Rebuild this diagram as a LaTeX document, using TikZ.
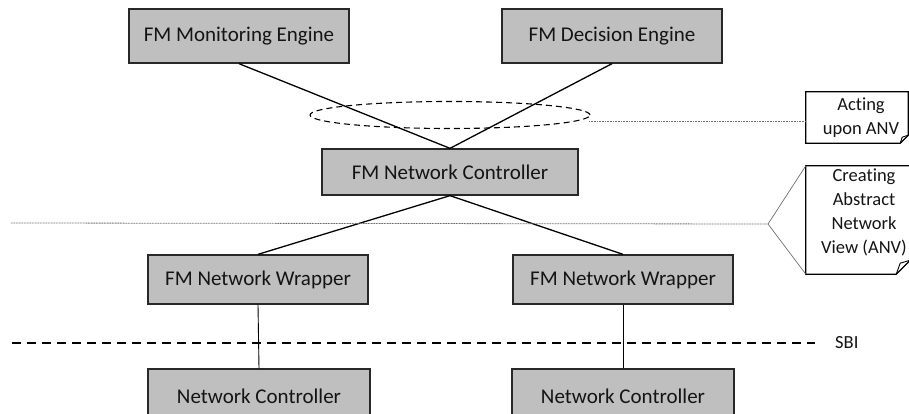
\documentclass[tikz,border=0pt]{standalone}
\usepackage{fontspec}
\setmainfont{Carlito}[Ligatures=NoCommon]
\usetikzlibrary{shapes.geometric,calc}
\definecolor{boxfill}{RGB}{191,191,191}
\definecolor{boxline}{RGB}{40,40,40}
\definecolor{txt}{RGB}{20,20,20}
\definecolor{thin}{RGB}{110,110,110}
\begin{document}
\begin{tikzpicture}[x=1pt,y=-1pt,
  fmbox/.style={draw=boxline, line width=1.3pt, fill=boxfill, text=txt,
    font=\fontsize{21}{25}\selectfont, inner sep=0pt},
  link/.style={line width=1.3pt, black},
  vlink/.style={line width=0.9pt, black},
  anvell/.style={draw=black, ellipse, line width=1.1pt, dash pattern=on 6pt off 4pt, inner sep=0pt},
  dotline/.style={draw=thin, line width=0.8pt, dash pattern=on 1pt off 0.6pt},
  callline/.style={draw=thin, line width=0.7pt},
  notebox/.style={inner sep=0pt},
  noteline/.style={draw=black, line width=1.2pt, line join=miter},
  notetext/.style={align=center, text=txt, font=\fontsize{18.5}{24}\selectfont, inner sep=0pt},
  sbiline/.style={draw=black, line width=2pt, dash pattern=on 9pt off 6pt}
]
\useasboundingbox (0,0) rectangle (909,414);
\clip (0,0) rectangle (909,414);

% main boxes
\node[fmbox, minimum width=220, minimum height=54] (me) at (239,36) {FM Monitoring Engine};
\node[fmbox, minimum width=220, minimum height=54] (de) at (612,36) {FM Decision Engine};
\node[fmbox, minimum width=256, minimum height=46] (nc) at (450,172) {FM Network Controller};
\node[fmbox, minimum width=220, minimum height=49] (wl) at (258,279.5) {FM Network Wrapper};
\node[fmbox, minimum width=220, minimum height=49] (wr) at (623,279.5) {FM Network Wrapper};
\node[fmbox, minimum width=222, minimum height=54] (bl) at (259,396) {Network Controller};
\node[fmbox, minimum width=222, minimum height=54] (br) at (623,396) {Network Controller};

% ellipse
\node[anvell, minimum width=280, minimum height=27] (anv) at (450,115) {};

% connectors
\draw[link] (me.south) -- (nc.north);
\draw[link] (de.south) -- (nc.north);
\draw[link] (nc.south) -- (wl.north);
\draw[link] (nc.south) -- (wr.north);
\draw[vlink] (wl.south) -- (bl.north);
\draw[vlink] (wr.south) -- (br.north);

% SBI
\coordinate (sbiL) at (12,343);
\coordinate (sbiR) at (815,343);
\draw[sbiline] (sbiL) -- (sbiR);
\node[notetext, anchor=west] (sbi) at (835,343) {SBI};

% callout boxes
\node[notebox, minimum width=102, minimum height=51] (act) at (857,117.5) {};
\node[notetext] (acttxt) at (861,117.5) {Acting\\upon ANV};
\draw[noteline] (act.north west) -- (act.north east) -- ($(act.south east)+(0,-8)$)
  -- ($(act.south east)+(-8,0)$) -- (act.south west) -- cycle;
\draw[noteline, line width=0.9pt] ($(act.south east)+(0,-8)$) -- ($(act.south east)+(-6,-6)$) -- ($(act.south east)+(-8,0)$);

\node[notebox, minimum width=104, minimum height=108] (cr) at (858,220) {};
\node[notetext] (crtxt) at (864,212) {Creating\\Abstract\\Network\\View (ANV)};
\draw[noteline] (cr.north west) -- (cr.north east) -- ($(cr.south east)+(0,-14)$)
  -- ($(cr.south east)+(-14,0)$) -- (cr.south west) -- cycle;
\draw[noteline, line width=0.9pt] ($(cr.south east)+(0,-14)$) -- ($(cr.south east)+(-10,-11)$) -- ($(cr.south east)+(-14,0)$);

% dotted leaders
\coordinate (e1) at (589,121);
\draw[dotline] (e1) -- (act.west |- e1);
\coordinate (d1) at (11,223);
\coordinate (apex) at (768,224);
\draw[dotline] (d1) -- (apex);
\draw[callline] (apex) -- (cr.north west);
\draw[callline] (apex) -- (cr.south west);
\end{tikzpicture}
\end{document}
